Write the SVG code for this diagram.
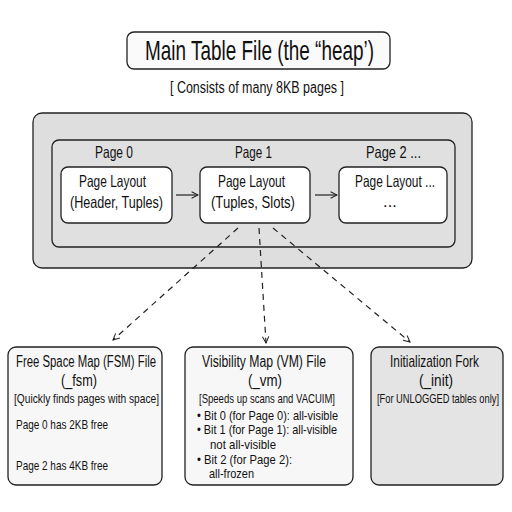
<svg xmlns="http://www.w3.org/2000/svg" width="512" height="512" viewBox="0 0 512 512">
<defs>
<style>
text{font-family:"Liberation Sans","DejaVu Sans",sans-serif;fill:#111;}
.t1{font-size:28px;}
.sub{font-size:16px;}
.t2{font-size:16.5px;}
.tb{font-size:16px;}
.ts{font-size:13px;}
.tl{font-size:13px;}
.box{stroke:#222;stroke-width:1.3;}
.dash{fill:none;stroke:#222;stroke-width:1.2;stroke-dasharray:6 5;}
.solid{fill:none;stroke:#222;stroke-width:1.2;}
</style>
<marker id="ah" viewBox="0 0 10 10" refX="9" refY="5" markerWidth="8" markerHeight="8" orient="auto" markerUnits="userSpaceOnUse">
<path d="M1,1 L9,5 L1,9" fill="none" stroke="#222" stroke-width="1.3"/>
</marker>
</defs>
<rect width="512" height="512" fill="#fff"/>

<g id="title">
<rect class="box" x="127" y="32" width="263" height="37" rx="7" fill="#fafafa"/>
<text class="t1" x="145" y="60" textLength="229" lengthAdjust="spacingAndGlyphs">Main Table File (the “heap’)</text>
</g>
<g id="subtitle">
<text class="sub" x="170" y="93" textLength="174" lengthAdjust="spacingAndGlyphs">[ Consists of many 8KB pages ]</text>
</g>

<g id="heap">
<rect class="box" x="33" y="113" width="439" height="155" rx="9" fill="#dedede"/>
<rect class="box" x="52" y="140" width="403" height="107" rx="7" fill="#e0e0e0"/>
</g>

<g id="page0">
<text class="t2" x="95" y="158" textLength="38" lengthAdjust="spacingAndGlyphs">Page 0</text>
<rect class="box" x="61" y="167" width="111" height="56" rx="7" fill="#fff"/>
<text class="t2" x="79" y="187" textLength="67" lengthAdjust="spacingAndGlyphs">Page Layout</text>
<text class="t2" x="70" y="208" textLength="93" lengthAdjust="spacingAndGlyphs">(Header, Tuples)</text>
</g>
<g id="page1">
<text class="t2" x="235" y="158" textLength="37" lengthAdjust="spacingAndGlyphs">Page 1</text>
<rect class="box" x="200" y="167" width="110" height="56" rx="7" fill="#fff"/>
<text class="t2" x="218" y="187" textLength="67" lengthAdjust="spacingAndGlyphs">Page Layout</text>
<text class="t2" x="211" y="208" textLength="84" lengthAdjust="spacingAndGlyphs">(Tuples, Slots)</text>
</g>
<g id="page2">
<text class="t2" x="366" y="158" textLength="55" lengthAdjust="spacingAndGlyphs">Page 2 ...</text>
<rect class="box" x="339" y="167" width="108" height="56" rx="7" fill="#fff"/>
<text class="t2" x="355" y="187" textLength="80" lengthAdjust="spacingAndGlyphs">Page Layout ...</text>
<text class="t2" x="390" y="207" text-anchor="middle">...</text>
</g>

<g id="fsm">
<rect class="box" x="8" y="347" width="154" height="138" rx="8" fill="#f7f7f7"/>
<text class="tb" x="16" y="367" textLength="140" lengthAdjust="spacingAndGlyphs">Free Space Map (FSM) File</text>
<text class="tb" x="61" y="386" textLength="36" lengthAdjust="spacingAndGlyphs">(_fsm)</text>
<text class="ts" x="14" y="403" textLength="145" lengthAdjust="spacingAndGlyphs">[Quickly finds pages with space]</text>
<text class="tl" x="16" y="429" textLength="92" lengthAdjust="spacingAndGlyphs">Page 0 has 2KB free</text>
<text class="tl" x="16" y="470" textLength="92" lengthAdjust="spacingAndGlyphs">Page 2 has 4KB free</text>
</g>

<g id="vm">
<rect class="box" x="185" y="347" width="168" height="138" rx="8" fill="#f7f7f7"/>
<text class="tb" x="202" y="367" textLength="124" lengthAdjust="spacingAndGlyphs">Visibility Map (VM) File</text>
<text class="tb" x="248" y="386" textLength="34" lengthAdjust="spacingAndGlyphs">(_vm)</text>
<text class="ts" x="199" y="403" textLength="136" lengthAdjust="spacingAndGlyphs">[Speeds up scans and VACUIM]</text>
<text class="tl" x="197" y="420" textLength="141" lengthAdjust="spacingAndGlyphs">• Bit 0 (for Page 0): all-visible</text>
<text class="tl" x="197" y="434" textLength="140" lengthAdjust="spacingAndGlyphs">• Bit 1 (for Page 1): all-visible</text>
<text class="tl" x="210" y="449" textLength="66" lengthAdjust="spacingAndGlyphs">not all-visible</text>
<text class="tl" x="197" y="464" textLength="95" lengthAdjust="spacingAndGlyphs">• Bit 2 (for Page 2):</text>
<text class="tl" x="209" y="478" textLength="45" lengthAdjust="spacingAndGlyphs">all-frozen</text>
</g>

<g id="init">
<rect class="box" x="371" y="347" width="132" height="138" rx="8" fill="#e4e4e4"/>
<text class="tb" transform="translate(390,367) scale(0.7,1)" x="0" y="0" textLength="127" lengthAdjust="spacingAndGlyphs">Initialization Fork</text>
<text class="tb" transform="translate(419,386) scale(0.8,1)" x="0" y="0" textLength="42.5" lengthAdjust="spacingAndGlyphs">(_init)</text>
<text class="ts" transform="translate(377,403) scale(0.716,1)" x="0" y="0" textLength="170.4" lengthAdjust="spacingAndGlyphs">[For UNLOGGED tables only]</text>
</g>

<g id="connectors">
<line class="solid" x1="176" y1="195" x2="198" y2="195" marker-end="url(#ah)"/>
<line class="solid" x1="315" y1="195" x2="337" y2="195" marker-end="url(#ah)"/>
<line class="dash" x1="238" y1="228" x2="113" y2="340" marker-end="url(#ah)"/>
<line class="dash" x1="259" y1="228" x2="266" y2="343" marker-end="url(#ah)"/>
<line class="dash" x1="273" y1="228" x2="410" y2="342" marker-end="url(#ah)"/>
</g>
</svg>
